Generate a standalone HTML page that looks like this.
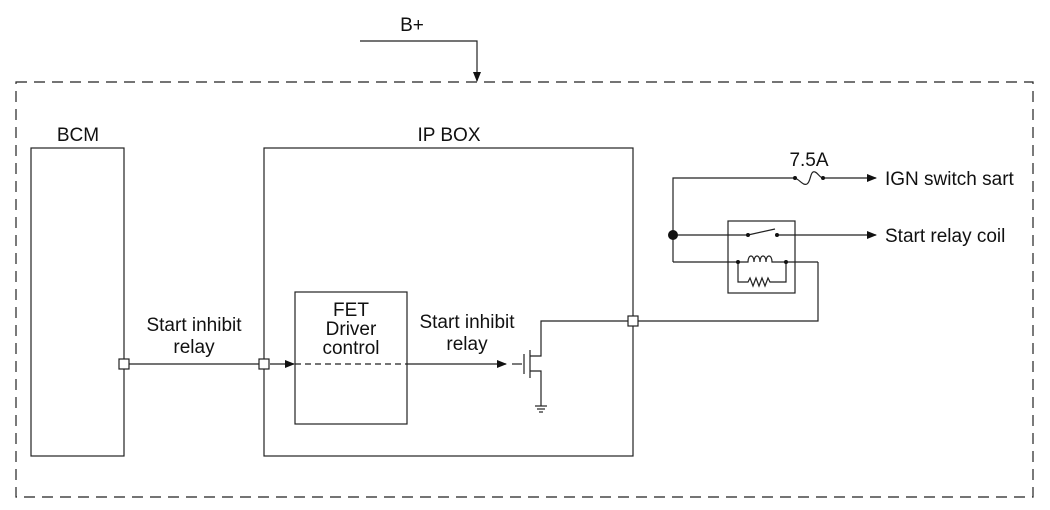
<!DOCTYPE html>
<html><head><meta charset="utf-8"><style>
html,body{margin:0;padding:0;background:#fff;}
svg{display:block;}
text{font-family:"Liberation Sans",Arial,sans-serif;font-size:19px;fill:#111;}
</style></head><body>
<svg width="1050" height="510" viewBox="0 0 1050 510" xmlns="http://www.w3.org/2000/svg">
<defs>
<marker id="ar" markerWidth="10" markerHeight="8" refX="9" refY="4" orient="auto" markerUnits="userSpaceOnUse">
<path d="M0,0 L10,4 L0,8 z" fill="#111"/></marker>
</defs>
<g stroke="#222" stroke-width="1.2" fill="none">
<rect x="16" y="82" width="1017" height="415" stroke-dasharray="11,7"/>
<path d="M360,41 H477 V81" marker-end="url(#ar)"/>
<rect x="31" y="148" width="93" height="308"/>
<rect x="264" y="148" width="369" height="308"/>
<rect x="295" y="292" width="112" height="132"/>
<line x1="124" y1="364" x2="264" y2="364"/>
<line x1="270" y1="364" x2="294" y2="364" marker-end="url(#ar)"/>
<line x1="295" y1="364" x2="407" y2="364" stroke-dasharray="6,4"/>
<line x1="407" y1="364" x2="506" y2="364" marker-end="url(#ar)"/>
<line x1="512" y1="364" x2="522" y2="364"/>
<line x1="524" y1="354" x2="524" y2="374"/>
<line x1="530" y1="350" x2="530" y2="378"/>
<path d="M530,356 H541 V321 H818 V262"/>
<path d="M530,371 H541 V406"/>
<line x1="535" y1="406" x2="547" y2="406"/>
<line x1="537" y1="409" x2="545" y2="409"/>
<line x1="539" y1="412" x2="543" y2="412"/>
<path d="M673,262 V178 H795"/>
<path d="M795,178 C800,180 803,186 807,184 C811,182 810,170 815,172 C818,173 820,178 823,178"/>
<line x1="823" y1="178" x2="876" y2="178" marker-end="url(#ar)"/>
<line x1="673" y1="235" x2="748" y2="235"/>
<line x1="748" y1="235" x2="775" y2="229"/>
<line x1="777" y1="235" x2="876" y2="235" marker-end="url(#ar)"/>
<rect x="728" y="221" width="67" height="72"/>
<path d="M673,262 H738"/>
<path d="M786,262 H818"/>
<path d="M738,262 H748 c0,-8 6,-8 6,0 c0,-8 6,-8 6,0 c0,-8 6,-8 6,0 c0,-8 6,-8 6,0 H786"/>
<path d="M738,262 V282 H748 l2,-4 l3,8 l3,-8 l3,8 l3,-8 l3,8 l3,-8 l2,4 H786 V262"/>
</g>
<g fill="#111">
<circle cx="673" cy="235" r="5"/>
<circle cx="748" cy="235" r="2"/><circle cx="777" cy="235" r="2"/>
<circle cx="738" cy="262" r="2"/><circle cx="786" cy="262" r="2"/>
<circle cx="795" cy="178" r="2"/><circle cx="823" cy="178" r="2"/>
</g>
<g fill="#fff" stroke="#222" stroke-width="1.2">
<rect x="119" y="359" width="10" height="10"/>
<rect x="259" y="359" width="10" height="10"/>
<rect x="628" y="316" width="10" height="10"/>
</g>
<text x="412" y="31" text-anchor="middle">B+</text>
<text x="78" y="141" text-anchor="middle">BCM</text>
<text x="449" y="141" text-anchor="middle">IP BOX</text>
<text x="351" y="316" text-anchor="middle">FET</text>
<text x="351" y="335" text-anchor="middle">Driver</text>
<text x="351" y="354" text-anchor="middle">control</text>
<text x="194" y="331" text-anchor="middle">Start inhibit</text>
<text x="194" y="353" text-anchor="middle">relay</text>
<text x="467" y="328" text-anchor="middle">Start inhibit</text>
<text x="467" y="350" text-anchor="middle">relay</text>
<text x="809" y="166" text-anchor="middle">7.5A</text>
<text x="885" y="185">IGN switch sart</text>
<text x="885" y="242">Start relay coil</text>
</svg>
</body></html>
